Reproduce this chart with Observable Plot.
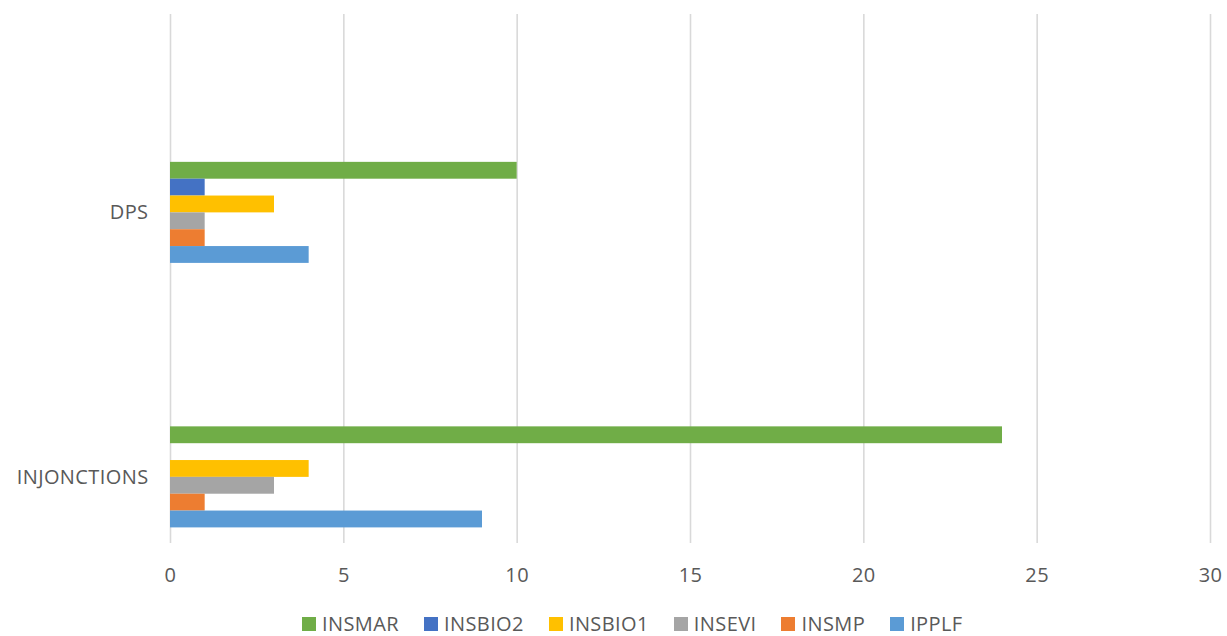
<!DOCTYPE html>
<html>
<head>
<meta charset="utf-8">
<script src="https://cdn.jsdelivr.net/npm/d3@7"></script>
<script src="https://cdn.jsdelivr.net/npm/@observablehq/plot@0.6"></script>
<style>
  html, body { margin: 0; padding: 0; background: #fff; }
  body { width: 1227px; height: 636px; overflow: hidden; font-family: "Open Sans", sans-serif; }
  #chart svg { display: block; }
  #legend { display: flex; align-items: center; padding-top: 18px; margin-left: 302px; height: 20px;
            font-size: 20px; letter-spacing: 0.4px; color: #595959; line-height: 20px; }
  .item { display: flex; align-items: center; margin-right: 25px; white-space: nowrap; }
  .sw { width: 14px; height: 14px; margin-right: 6px; flex: none; }
</style>
</head>
<body>
<div id="chart"></div>
<div id="legend"></div>
<script>
// ---- data ----
const categories = ["DPS", "INJONCTIONS"];
const series = ["INSMAR", "INSBIO2", "INSBIO1", "INSEVI", "INSMP", "IPPLF"];
const dpsValues = [10, 1, 3, 1, 1, 4];
const injonctionsValues = [24, 0, 4, 3, 1, 9];
const xTicks = [0, 5, 10, 15, 20, 25, 30];
const seriesColors = ["#70AD47", "#4472C4", "#FFC000", "#A5A5A5", "#ED7D31", "#5B9BD5"];

// ---- layout helpers (band geometry) ----
const groupFrac = 0.382;                 // share of a category band taken by its bars
const slot = groupFrac / series.length;  // thickness of one bar, in band units

const valuesByCategory = [dpsValues, injonctionsValues];
const rows = [];
categories.forEach((c, ci) => {
  series.forEach((s, si) => {
    const top = ci + 0.5 - groupFrac / 2 + si * slot;
    rows.push({category: c, series: s, value: valuesByCategory[ci][si], y1: top, y2: top + slot});
  });
});

const textColor = "#595959";

const chart = Plot.plot({
  width: 1227,
  height: 596,
  marginTop: 14,
  marginBottom: 53,
  marginLeft: 170,
  marginRight: 17,
  style: {fontFamily: "Open Sans, sans-serif", fontSize: "20px", color: textColor, letterSpacing: "0.4px", background: "#fff"},
  x: {domain: [0, 30], ticks: xTicks, label: null},
  y: {domain: [1.75, -0.25], label: null},
  color: {domain: series, range: seriesColors},
  marks: [
    Plot.gridX(xTicks, {stroke: "#d9d9d9", strokeOpacity: 1, strokeWidth: 1.6}),
    Plot.rectX(rows, {x1: 0, x2: "value", y1: "y1", y2: "y2", fill: "series"}),
    Plot.axisX(xTicks, {tickSize: 0, tickPadding: 24, fill: textColor, fontSize: 20, tickFormat: d => String(d)}),
    Plot.axisY(categories.map((c, i) => i + 0.5), {
      tickSize: 0, tickPadding: 22, fill: textColor, fontSize: 20,
      tickFormat: v => categories[Math.floor(v)]
    })
  ]
});
document.getElementById("chart").appendChild(chart);

const legend = document.getElementById("legend");
series.forEach((s, i) => {
  const item = document.createElement("div");
  item.className = "item";
  const sw = document.createElement("span");
  sw.className = "sw";
  sw.style.background = seriesColors[i];
  const label = document.createElement("span");
  label.textContent = s;
  item.appendChild(sw);
  item.appendChild(label);
  legend.appendChild(item);
});
</script>
</body>
</html>
